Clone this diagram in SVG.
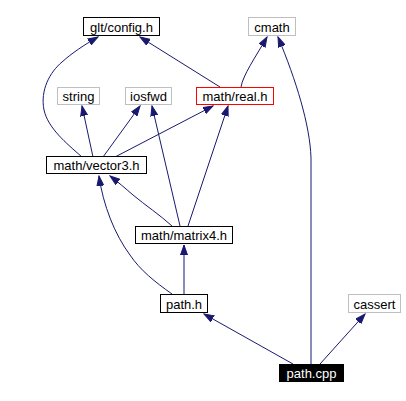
<svg xmlns="http://www.w3.org/2000/svg" width="406" height="401" viewBox="0 0 406 401">
<style>
text{font-family:"Liberation Sans",Arial,sans-serif;font-size:13px;text-anchor:middle;fill:#000}
.n rect{fill:#fff;stroke:#000;stroke-width:1}
.g rect{stroke:#bfbfbf}
.r rect{stroke:#ff0000}
.b rect{fill:#000}
.b text{fill:#fff}
.e path{fill:none;stroke:#191970;stroke-width:1;marker-end:url(#a)}
</style>
<defs>
<marker id="a" markerUnits="userSpaceOnUse" markerWidth="11" markerHeight="8" refX="10" refY="4" orient="auto" viewBox="0 0 11 8">
<path d="M0,0.5 L10,4 L0,7.5 z" fill="#191970" stroke="#191970" stroke-width="1"/>
</marker>
</defs>
<rect width="406" height="401" fill="#fff"/>
<g id="edges" class="e">
<path d="M82,157 C66,143 48,128 44,110 C40,90 50,72 62,62 C72,53 84,45 98,37"/>
<path d="M220,87 L140,37"/>
<path d="M241,87 C243,75 255,58 267,37"/>
<path d="M311,364 L311,158 C310,125 296,80 278,37"/>
<path d="M93,157 L82,106"/>
<path d="M103,157 L140,106"/>
<path d="M115,157 L213,106"/>
<path d="M180,226 L152,106"/>
<path d="M188,226 L228,106"/>
<path d="M172,226 C160,215 145,205 133,195 C125,188 118,182 110,176"/>
<path d="M172,294 C155,282 140,270 130,255 C115,235 103,205 99,176"/>
<path d="M184,294 L184,245"/>
<path d="M293,364 L204,314"/>
<path d="M320,364 L365,314"/>
</g>
<g id="config" class="n"><rect x="83.5" y="17.5" width="76" height="18"/><text x="121.5" y="31.5">glt/config.h</text></g>
<g id="cmath" class="n g"><rect x="248.5" y="17.5" width="47" height="18"/><text x="272" y="31.5">cmath</text></g>
<g id="string" class="n g"><rect x="57.5" y="87.5" width="42" height="17"/><text x="78.5" y="101">string</text></g>
<g id="iosfwd" class="n g"><rect x="125.5" y="87.5" width="46" height="17"/><text x="148.5" y="101">iosfwd</text></g>
<g id="real" class="n r"><rect x="196.5" y="87.5" width="77" height="17"/><text x="235" y="101">math/real.h</text></g>
<g id="vector3" class="n"><rect x="46.5" y="156.5" width="100" height="17"/><text x="96.5" y="170">math/vector3.h</text></g>
<g id="matrix4" class="n"><rect x="135.5" y="226.5" width="97" height="17"/><text x="184" y="240">math/matrix4.h</text></g>
<g id="pathh" class="n"><rect x="160.5" y="294.5" width="47" height="18"/><text x="184" y="308.5">path.h</text></g>
<g id="cassert" class="n g"><rect x="348.5" y="294.5" width="52" height="18"/><text x="374.5" y="308.5">cassert</text></g>
<g id="pathcpp" class="n b"><rect x="279.5" y="364.5" width="64" height="17"/><text x="311.5" y="378">path.cpp</text></g>
</svg>
